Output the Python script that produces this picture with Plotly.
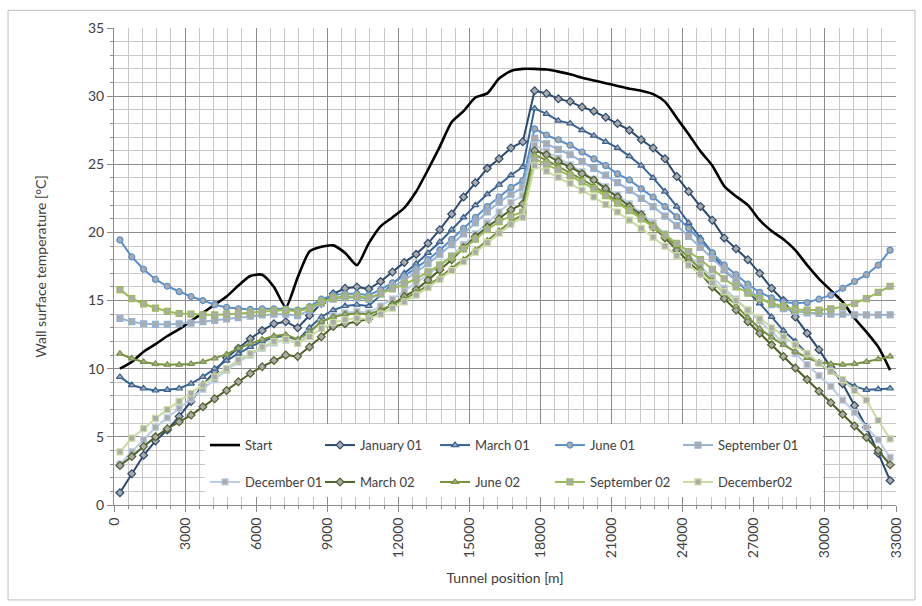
import plotly.graph_objects as go

# Tunnel positions of the computed wall-temperature points [m]
position = list(range(250, 33000, 500))

start = [10.0, 10.5, 11.25, 11.8, 12.4, 12.9, 13.5, 14.1, 14.7, 15.3,
         16.1, 16.8, 16.9, 16.0, 14.5, 16.7, 18.6, 18.95, 19.05, 18.5,
         17.6, 19.2, 20.45, 21.1, 21.8, 23.0, 24.6, 26.3, 28.1, 28.9,
         29.9, 30.2, 31.3, 31.85, 32.0, 32.0, 31.95, 31.8, 31.6, 31.35,
         31.15, 30.95, 30.75, 30.55, 30.4, 30.15, 29.6, 28.4, 27.2, 25.95,
         24.9, 23.4, 22.65, 22.0, 20.9, 20.1, 19.5, 18.7, 17.6, 16.6,
         15.75, 14.9, 13.7, 12.7, 11.6, 9.9]

january_01 = [0.9, 2.3, 3.65, 4.7, 5.5, 6.5, 7.6, 8.8, 9.8, 10.8,
              11.5, 12.2, 12.8, 13.3, 13.45, 13.0, 13.9, 14.8, 15.5, 15.9,
              16.0, 15.85, 16.4, 17.1, 17.8, 18.4, 19.2, 20.2, 21.35, 22.6,
              23.65, 24.7, 25.4, 26.2, 26.65, 30.4, 30.2, 29.8, 29.6, 29.2,
              28.9, 28.45, 28.0, 27.5, 26.8, 26.2, 25.4, 24.1, 23.0, 21.9,
              20.9, 19.6, 18.8, 18.0, 17.0, 15.9, 15.0, 13.8, 12.6, 11.4,
              10.1, 8.9, 7.3, 5.7, 3.8, 1.8]

march_01 = [9.4, 8.8, 8.55, 8.4, 8.45, 8.55, 8.9, 9.4, 10.0, 10.6,
            11.1, 11.6, 12.0, 12.3, 12.4, 12.1, 13.0, 13.8, 14.3, 14.6,
            14.7, 14.6, 15.4, 16.2, 17.0, 17.7, 18.5, 19.3, 20.2, 21.1,
            22.0, 22.8, 23.5, 24.2, 24.8, 29.1, 28.7, 28.2, 28.0, 27.5,
            27.1, 26.65, 26.2, 25.6, 24.9, 24.0, 23.0, 21.9, 20.7, 19.6,
            18.5, 17.2, 16.5, 15.65, 14.8, 13.8, 12.8, 12.0, 11.1, 10.4,
            9.8, 9.2, 8.7, 8.45, 8.5, 8.55]

june_01 = [19.45, 18.2, 17.3, 16.55, 16.05, 15.65, 15.3, 15.0, 14.7, 14.5,
           14.4, 14.35, 14.4, 14.4, 14.4, 14.3, 14.55, 15.1, 15.4, 15.5,
           15.5, 15.4, 15.8, 16.3, 16.8, 17.4, 18.0, 18.7, 19.5, 20.3,
           21.1, 21.9, 22.6, 23.3, 23.8, 27.6, 27.15, 26.8, 26.4, 25.9,
           25.4, 24.9, 24.3, 23.85, 23.2, 22.6, 21.9, 21.15, 20.3, 19.4,
           18.5, 17.6, 16.9, 16.2, 15.6, 15.2, 14.9, 14.8, 14.85, 15.1,
           15.4, 15.9, 16.4, 16.9, 17.6, 18.7]

september_01 = [13.7, 13.45, 13.3, 13.25, 13.25, 13.3, 13.35, 13.45, 13.55, 13.65,
                13.75, 13.85, 13.95, 14.0, 14.0, 13.9, 14.3, 14.8, 15.1, 15.2,
                15.2, 15.1, 15.5, 16.0, 16.5, 17.1, 17.7, 18.4, 19.1, 19.9,
                20.7, 21.5, 22.2, 22.8, 23.3, 26.9, 26.5, 26.1, 25.7, 25.2,
                24.7, 24.2, 23.65, 23.1, 22.5, 21.9, 21.2, 20.5, 19.7, 18.9,
                18.1, 17.3, 16.5, 15.8, 15.2, 14.7, 14.4, 14.2, 14.1, 14.05,
                14.0, 14.0, 13.95, 13.95, 13.95, 13.95]

december_01 = [3.0, 3.9, 4.8, 5.7, 6.4, 7.1, 7.8, 8.5, 9.2, 9.9,
               10.5, 11.0, 11.5, 11.9, 12.1, 11.9, 12.6, 13.4, 13.9, 14.1,
               14.2, 14.1, 14.6, 15.1, 15.7, 16.3, 16.9, 17.6, 18.3, 19.1,
               19.9, 20.7, 21.5, 22.2, 22.7, 26.4, 25.95, 25.45, 24.95, 24.45,
               23.9, 23.35, 22.75, 22.1, 21.4, 20.7, 19.9, 19.1, 18.3, 17.5,
               16.7, 15.9, 15.1, 14.3, 13.5, 12.7, 11.9, 11.1, 10.3, 9.5,
               8.7, 7.7, 6.8, 5.7, 4.8, 3.5]

march_02 = [2.9, 3.55, 4.3, 5.0, 5.6, 6.1, 6.6, 7.2, 7.8, 8.4,
            9.05, 9.65, 10.15, 10.6, 11.0, 10.9, 11.6, 12.35, 13.1, 13.3,
            13.45, 13.65, 14.2, 14.7, 15.3, 15.8, 16.5, 17.25, 18.0, 18.85,
            19.7, 20.4, 21.0, 21.65, 22.1, 26.0, 25.7, 25.2, 24.8, 24.3,
            23.85, 23.2, 22.6, 21.9, 21.3, 20.4, 19.6, 18.7, 17.85, 17.0,
            16.0, 15.15, 14.3, 13.45, 12.6, 11.75, 10.9, 10.05, 9.2, 8.35,
            7.5, 6.65, 5.8, 4.95, 4.0, 2.95]

june_02 = [11.1, 10.75, 10.5, 10.35, 10.3, 10.3, 10.35, 10.5, 10.75, 11.05,
           11.5, 11.85, 12.15, 12.4, 12.5, 12.15, 12.7, 13.45, 13.8, 14.0,
           14.05, 14.0, 14.3, 14.7, 15.1, 15.6, 16.1, 16.7, 17.35, 18.0,
           18.7, 19.4, 20.1, 20.8, 21.3, 25.7, 25.3, 24.85, 24.4, 23.9,
           23.4, 22.85, 22.3, 21.7, 21.1, 20.5, 19.8, 19.0, 18.15, 17.3,
           16.4, 15.5, 14.6, 13.75, 12.95, 12.3, 11.75, 11.25, 10.8, 10.45,
           10.35, 10.3, 10.35, 10.5, 10.7, 10.9]

september_02 = [15.8, 15.15, 14.75, 14.45, 14.2, 14.05, 14.0, 13.95, 13.95, 14.0,
                14.05, 14.1, 14.15, 14.25, 14.3, 14.2, 14.45, 14.9, 15.2, 15.3,
                15.3, 15.2, 15.5, 15.85, 16.2, 16.6, 17.1, 17.6, 18.2, 18.8,
                19.5, 20.2, 20.8, 21.2, 21.5, 25.4, 25.0, 24.6, 24.15, 23.7,
                23.2, 22.7, 22.15, 21.6, 21.0, 20.4, 19.8, 19.2, 18.6, 18.0,
                17.3, 16.6, 16.0, 15.55, 15.15, 14.8, 14.55, 14.35, 14.3, 14.3,
                14.4, 14.55, 14.8, 15.15, 15.6, 16.05]

december_02 = [3.9, 4.9, 5.6, 6.35, 7.0, 7.6, 8.2, 8.8, 9.4, 10.0,
               10.65, 11.1, 11.6, 12.0, 12.15, 11.85, 12.35, 12.95, 13.4, 13.6,
               13.7, 13.65, 14.0, 14.45, 14.9, 15.4, 15.95, 16.55, 17.2, 17.85,
               18.55, 19.25, 19.95, 20.6, 21.1, 24.9, 24.5, 24.05, 23.6, 23.1,
               22.6, 22.05, 21.5, 20.9, 20.3, 19.65, 19.0, 18.3, 17.6, 16.95,
               16.3, 15.65, 15.0, 14.3, 13.65, 13.0, 12.35, 11.75, 11.1, 10.4,
               9.8, 9.2, 8.4, 7.7, 6.2, 4.85]

# name, values, line colour, marker symbol, legend column
series = [
    ("January 01", january_01, "#2B4A6F", "diamond", "legend2"),
    ("March 01", march_01, "#376296", "triangle-up", "legend3"),
    ("June 01", june_01, "#5A8FCC", "circle", "legend4"),
    ("September 01", september_01, "#95B3D7", "square", "legend5"),
    ("December 01", december_01, "#B9CDE5", "square", "legend"),
    ("March 02", march_02, "#4F6228", "diamond", "legend2"),
    ("June 02", june_02, "#77933C", "triangle-up", "legend3"),
    ("September 02", september_02, "#9BBB59", "square", "legend4"),
    ("December02", december_02, "#C9DBA3", "square", "legend5"),
]

FONT = "Lato, 'Open Sans', sans-serif"
TEXT = "#404040"
MAJOR = "#8C8C8C"
MINOR = "#C8C8C8"

fig = go.Figure()

fig.add_trace(go.Scatter(
    x=position, y=start, name="Start", mode="lines", legend="legend",
    legendgroup="Start",
    line=dict(color="#000000", width=2.6, shape="spline", smoothing=0.6),
))

for name, values, color, symbol, leg in series:
    fig.add_trace(go.Scatter(
        x=position, y=values, name=name, mode="lines+markers",
        legend=leg, legendgroup=name,
        line=dict(color=color, width=2),
        marker=dict(symbol=symbol, size=6, color="#ABABAB",
                    line=dict(color=color, width=1.2)),
    ))

# five two-row legend columns laid out across the lower part of the plot
legend_cols = [0.1164, 0.2634, 0.4105, 0.5575, 0.7212]
legend_style = dict(
    orientation="v", y=0.157, xanchor="left", yanchor="top",
    bgcolor="rgba(0,0,0,0)", font=dict(size=13, color=TEXT),
    itemwidth=30, tracegroupgap=17,
)
legend_layout = {}
for i, lx in enumerate(legend_cols):
    key = "legend" if i == 0 else f"legend{i + 1}"
    legend_layout[key] = dict(x=lx, **legend_style)

fig.update_layout(
    width=922, height=606,
    margin=dict(l=114, r=26, t=28, b=101),
    paper_bgcolor="white", plot_bgcolor="white",
    font=dict(family=FONT, size=13, color=TEXT),
    showlegend=True,
    **legend_layout,
    xaxis=dict(
        range=[0, 33000], tickmode="linear", tick0=0, dtick=3000,
        tickformat="d", tickangle=-90,
        tickfont=dict(size=14, color=TEXT),
        showgrid=True, gridcolor=MAJOR, gridwidth=1,
        minor=dict(tick0=0, dtick=600, showgrid=True, gridcolor=MINOR,
                   gridwidth=1, ticks="outside", ticklen=3, tickcolor=MAJOR),
        ticks="outside", ticklen=6, tickcolor=MAJOR,
        showline=True, linecolor=MAJOR, linewidth=1, zeroline=False,
        title=dict(text="Tunnel position [m]", font=dict(size=14, color=TEXT)),
    ),
    yaxis=dict(
        range=[0, 35], tickmode="linear", tick0=0, dtick=5,
        tickfont=dict(size=14, color=TEXT),
        showgrid=True, gridcolor=MAJOR, gridwidth=1,
        minor=dict(tick0=0, dtick=1, showgrid=True, gridcolor=MINOR,
                   gridwidth=1, ticks="outside", ticklen=3, tickcolor=MAJOR),
        ticks="outside", ticklen=6, tickcolor=MAJOR,
        showline=True, linecolor=MAJOR, linewidth=1, zeroline=False,
        title=dict(text="Wall surface temperature [°C]",
                   font=dict(size=14, color=TEXT), standoff=38),
    ),
)

# white panel behind the legend columns
fig.add_shape(type="rect", xref="paper", yref="paper",
              x0=0.1164, x1=0.9067, y0=0.0168, y1=0.1698,
              fillcolor="white", line=dict(width=0), layer="above")

# chart-area frame
fig.add_shape(type="rect", xref="paper", yref="paper",
              x0=-0.1355, x1=1.0243, y0=-0.199, y1=1.037,
              line=dict(color="#BFBFBF", width=1), layer="below")

fig.write_html("out.html")
